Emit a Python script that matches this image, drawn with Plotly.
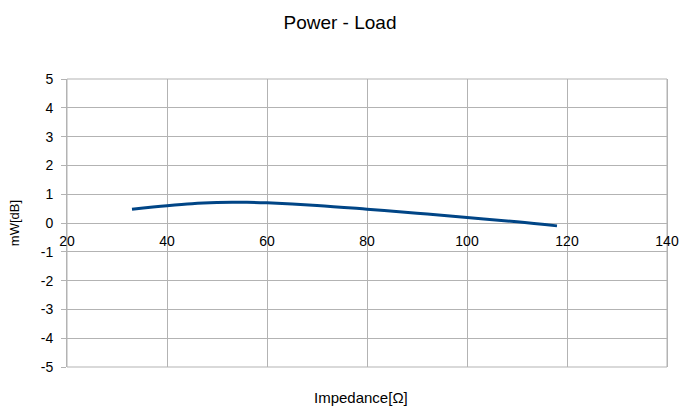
import plotly.graph_objects as go

impedance = [33, 40, 45, 50, 53, 56, 60, 70, 80, 90, 100, 110, 118]
power_db = [0.48, 0.60, 0.67, 0.71, 0.72, 0.72, 0.70, 0.61, 0.48, 0.34, 0.19, 0.04, -0.10]

x_ticks = [20, 40, 60, 80, 100, 120, 140]
y_ticks = [5, 4, 3, 2, 1, 0, -1, -2, -3, -4, -5]
y_tick_text = ["5", "4", "3", "2", "1", "0", "-1", "-2", "-3", "-4", "-5"]

font_family = "Liberation Sans, Arial, sans-serif"
grid_color = "#b3b3b3"

fig = go.Figure()
fig.add_trace(go.Scatter(
    x=impedance, y=power_db, mode="lines",
    line=dict(color="#004586", width=3, shape="spline"),
    showlegend=False,
))

fig.update_layout(
    width=680, height=406,
    margin=dict(l=67, r=13, t=79, b=39),
    paper_bgcolor="white", plot_bgcolor="white",
    font=dict(family=font_family, size=14, color="#000000"),
    title=dict(text="Power - Load", x=0.5, xanchor="center", y=0.945, yanchor="middle",
               font=dict(size=19, family=font_family, color="#000")),
    xaxis=dict(
        range=[20, 140], tickvals=x_ticks, showgrid=True, gridcolor=grid_color, gridwidth=1,
        zeroline=False, showline=False, ticks="", anchor="free", position=0.5,
        ticklabelstandoff=8, tickfont=dict(size=14), automargin=False,
    ),
    yaxis=dict(
        range=[-5, 5], tickvals=y_ticks, ticktext=y_tick_text, showgrid=True,
        gridcolor=grid_color, gridwidth=1,
        zeroline=False, showline=True, linecolor=grid_color, mirror=True,
        ticks="outside", ticklen=5, tickcolor=grid_color, tickfont=dict(size=14),
        ticklabelstandoff=5, automargin=False,
    ),
    annotations=[
        dict(text="Impedance[Ω]", xref="paper", yref="paper", x=0.49, y=-0.105,
             xanchor="center", yanchor="middle", showarrow=False, font=dict(size=15)),
        dict(text="mW[dB]", xref="paper", yref="paper", x=-0.088, y=0.5, textangle=-90,
             xanchor="center", yanchor="middle", showarrow=False, font=dict(size=13)),
    ],
)
fig.add_shape(type="rect", xref="paper", yref="paper", x0=0, y0=0, x1=1, y1=1,
              line=dict(color=grid_color, width=1), layer="below")

fig.write_html("out.html")
